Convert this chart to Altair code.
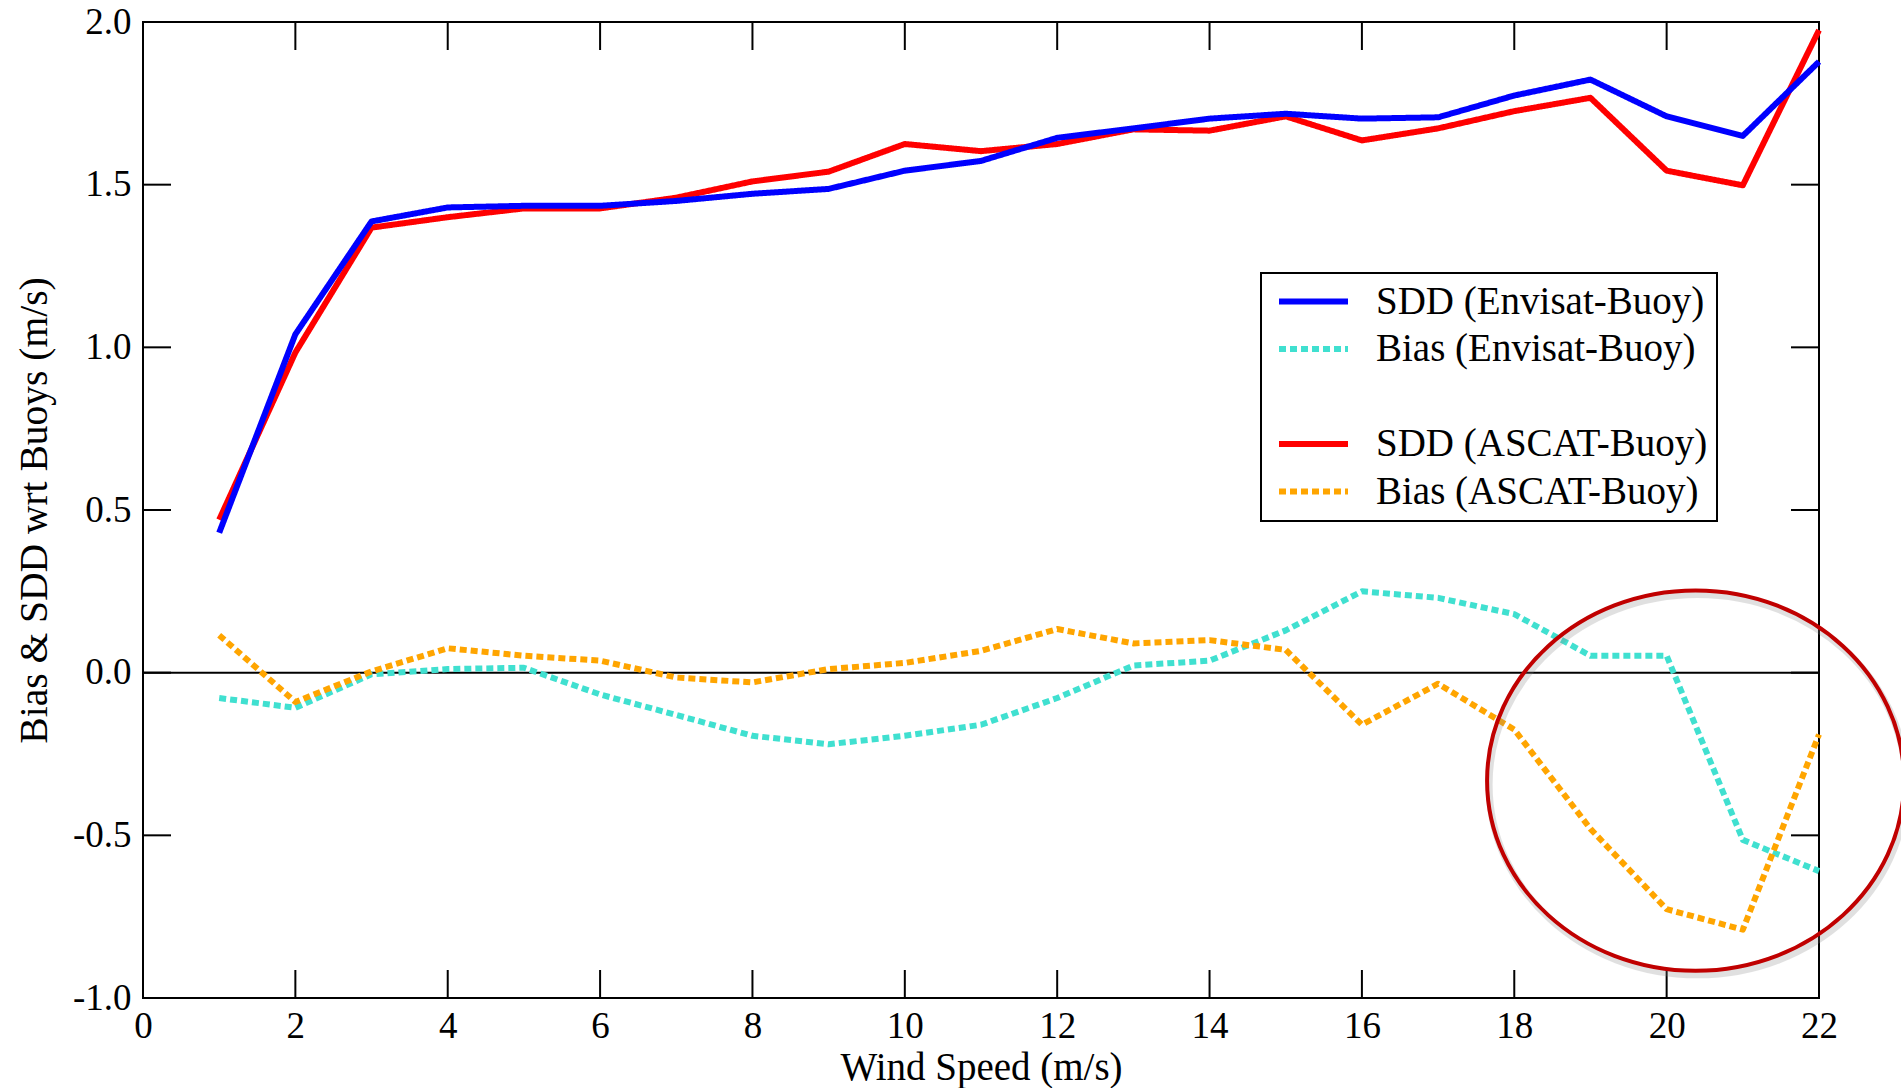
import altair as alt
import pandas as pd

# ---------------- data ----------------
wind_speed = list(range(1, 23))
sdd_envisat = [0.43, 1.04, 1.387, 1.43, 1.435, 1.435, 1.45, 1.472, 1.487, 1.543, 1.573,
               1.644, 1.673, 1.703, 1.718, 1.703, 1.707, 1.774, 1.823, 1.71, 1.65, 1.878]
bias_envisat = [-0.078, -0.108, -0.005, 0.011, 0.015, -0.067, -0.13, -0.194, -0.22, -0.194, -0.16,
                -0.078, 0.022, 0.037, 0.13, 0.25, 0.23, 0.18, 0.052, 0.052, -0.514, -0.61]
sdd_ascat = [0.47, 0.984, 1.368, 1.40, 1.427, 1.427, 1.46, 1.51, 1.54, 1.625, 1.603,
             1.625, 1.67, 1.666, 1.71, 1.636, 1.673, 1.726, 1.767, 1.543, 1.498, 1.975]
bias_ascat = [0.115, -0.09, 0.004, 0.075, 0.052, 0.037, -0.015, -0.03, 0.011, 0.03, 0.067,
              0.134, 0.09, 0.10, 0.07, -0.16, -0.034, -0.175, -0.48, -0.727, -0.79, -0.19]

series_names = ["SDD (Envisat-Buoy)", "Bias (Envisat-Buoy)", " ", "SDD (ASCAT-Buoy)", "Bias (ASCAT-Buoy)"]
series_colors = ["#0000FF", "#40E0D0", "transparent", "#FF0000", "#FFA500"]
series_dash = [[1, 0], [7, 4], [1, 0], [1, 0], [7, 4]]

x_ticks = list(range(0, 23, 2))
y_ticks = [-1.0, -0.5, 0.0, 0.5, 1.0, 1.5, 2.0]
zero_level = [0.0]
highlight_x = [20.38]
highlight_y = [-0.332]

# ---------------- layout ----------------
W, H = 1676, 976
TICK = 28
FONT = "Liberation Serif"

rows = []
for name, vals in [("SDD (ASCAT-Buoy)", sdd_ascat), ("SDD (Envisat-Buoy)", sdd_envisat),
                   ("Bias (Envisat-Buoy)", bias_envisat), ("Bias (ASCAT-Buoy)", bias_ascat)]:
    for x, v in zip(wind_speed, vals):
        rows.append({"wind": x, "value": v, "series": name})
df = pd.DataFrame(rows)

xscale = alt.Scale(domain=[0, 22], nice=False, zero=False)
yscale = alt.Scale(domain=[-1, 2], nice=False, zero=False)

x_axis = alt.Axis(values=x_ticks, ticks=False, domain=False, grid=False,
                  labelFontSize=37, labelFont=FONT, labelColor="black", labelPadding=10,
                  labelFlush=False, labelOverlap=False,
                  title="Wind Speed (m/s)", titleFontSize=39, titleFont=FONT,
                  titleFontWeight="normal", titleColor="black", titlePadding=4)
y_axis = alt.Axis(values=y_ticks, ticks=False, domain=False, grid=False,
                  labelFontSize=37, labelFont=FONT, labelColor="black", labelPadding=12,
                  labelFlush=False, labelOverlap=False,
                  labelExpr="replace(format(datum.value, '.1f'), '\u2212', '-')",
                  title="Bias & SDD wrt Buoys (m/s)", titleFontSize=39.5, titleFont=FONT,
                  titleFontWeight="normal", titleColor="black", titlePadding=18)

legend = alt.Legend(orient="none", legendX=1118, legendY=251, title=None,
                    symbolType="M -1.1053 0 H 6.1579", symbolSize=361, symbolStrokeWidth=6,
                    symbolFillColor="transparent",
                    labelFont=FONT, labelFontSize=39, labelColor="black", labelOffset=67,
                    labelLimit=600, rowPadding=7.5, padding=9,
                    fillColor="white", strokeColor="black")

color_enc = alt.Color("series:N", scale=alt.Scale(domain=series_names, range=series_colors),
                      legend=legend)
dash_enc = alt.StrokeDash("series:N", scale=alt.Scale(domain=series_names, range=series_dash),
                          legend=legend)

line_layers = []
for name in ["SDD (ASCAT-Buoy)", "SDD (Envisat-Buoy)", "Bias (Envisat-Buoy)", "Bias (ASCAT-Buoy)"]:
    layer = alt.Chart(df).transform_filter(alt.datum.series == name).mark_line(
        strokeWidth=6, strokeCap="butt", strokeJoin="round"
    ).encode(
        x=alt.X("wind:Q", scale=xscale, axis=x_axis),
        y=alt.Y("value:Q", scale=yscale, axis=y_axis),
        color=color_enc,
        strokeDash=dash_enc,
    )
    line_layers.append(layer)

zero_rule = alt.Chart(pd.DataFrame({"z": zero_level})).mark_rule(color="black", strokeWidth=2).encode(
    y=alt.Y("z:Q", scale=yscale, axis=y_axis))

xt = pd.DataFrame({"t": x_ticks})
yt = pd.DataFrame({"t": y_ticks})
tick_style = dict(color="black", strokeWidth=2)
x_bottom = alt.Chart(xt).mark_rule(**tick_style).encode(
    x=alt.X("t:Q", scale=xscale, axis=x_axis), y=alt.value(H), y2=alt.value(H - TICK))
x_top = alt.Chart(xt).mark_rule(**tick_style).encode(
    x=alt.X("t:Q", scale=xscale, axis=x_axis), y=alt.value(0), y2=alt.value(TICK))
y_left = alt.Chart(yt).mark_rule(**tick_style).encode(
    y=alt.Y("t:Q", scale=yscale, axis=y_axis), x=alt.value(0), x2=alt.value(TICK))
y_right = alt.Chart(yt).mark_rule(**tick_style).encode(
    y=alt.Y("t:Q", scale=yscale, axis=y_axis), x=alt.value(W), x2=alt.value(W - TICK))

ell_df = pd.DataFrame({"cx": highlight_x, "cy": highlight_y})
ellipse_path = "M -1 0 A 1 0.912 0 1 1 1 0 A 1 0.912 0 1 1 -1 0 Z"
ell_shadow = alt.Chart(ell_df).mark_point(
    shape=ellipse_path, size=173889, filled=False, stroke="#888888", strokeWidth=7,
    opacity=0.25, xOffset=2, yOffset=4
).encode(x=alt.X("cx:Q", scale=xscale, axis=x_axis), y=alt.Y("cy:Q", scale=yscale, axis=y_axis))
ell = alt.Chart(ell_df).mark_point(
    shape=ellipse_path, size=173889, filled=False, stroke="#C00000", strokeWidth=4, opacity=1
).encode(x=alt.X("cx:Q", scale=xscale, axis=x_axis), y=alt.Y("cy:Q", scale=yscale, axis=y_axis))

chart = alt.layer(
    zero_rule, x_bottom, x_top, y_left, y_right, *line_layers, ell_shadow, ell
).properties(
    width=W, height=H,
    autosize=alt.AutoSizeParams(type="none"),
    padding={"left": 143, "top": 22, "right": 82, "bottom": 90},
    background="white",
).configure_view(
    stroke="black", strokeWidth=2
).configure_legend(
    strokeWidth=2
)

chart.save("out.html", embed_options={"renderer": "svg", "actions": False})
